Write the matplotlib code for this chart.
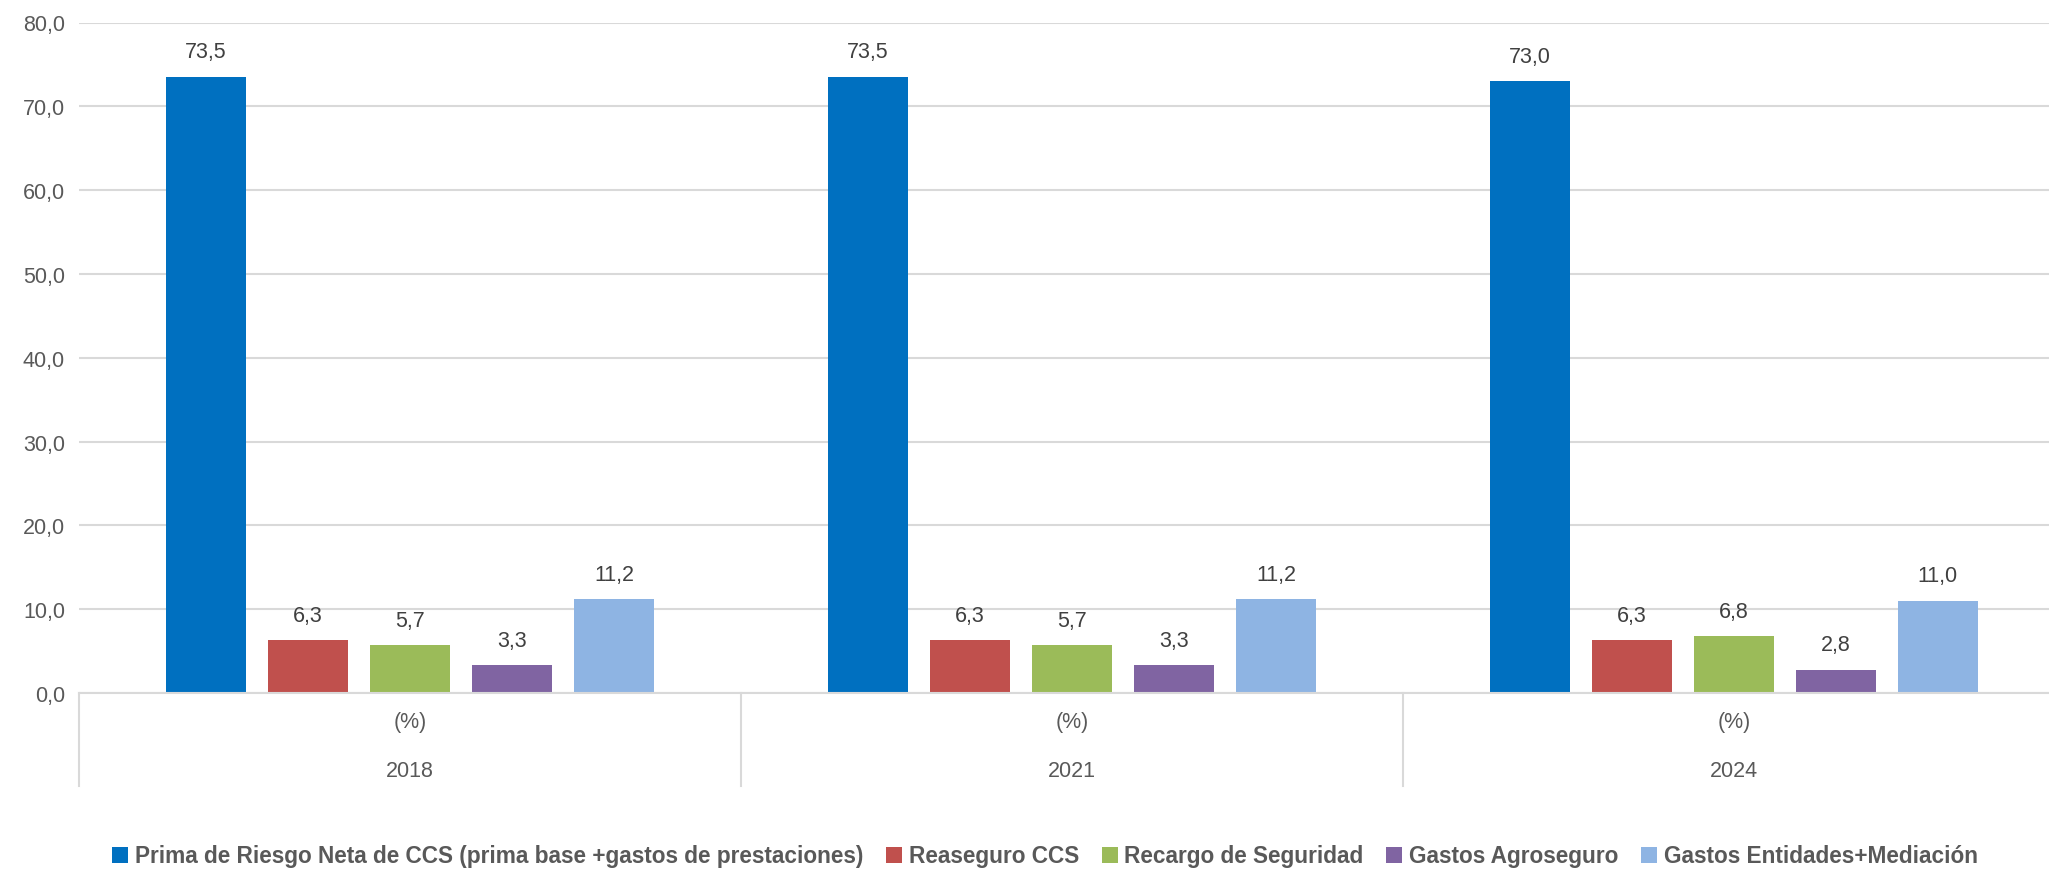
import numpy as np
import matplotlib
matplotlib.use("Agg")
import matplotlib.pyplot as plt
import matplotlib.transforms as mtransforms

plt.rcParams["font.family"] = ["Liberation Sans", "DejaVu Sans"]
NARROW = ["Liberation Sans Narrow", "Liberation Sans", "DejaVu Sans"]

years = ["2018", "2021", "2024"]
unit_label = "(%)"
series_names = [
    "Prima de Riesgo Neta de CCS (prima base +gastos de prestaciones)",
    "Reaseguro CCS",
    "Recargo de Seguridad",
    "Gastos Agroseguro",
    "Gastos Entidades+Mediación",
]
prima_riesgo = [73.5, 73.5, 73.0]
reaseguro = [6.3, 6.3, 6.3]
recargo = [5.7, 5.7, 6.8]
agroseguro = [3.3, 3.3, 2.8]
entidades = [11.2, 11.2, 11.0]
series_values = [prima_riesgo, reaseguro, recargo, agroseguro, entidades]
colors = ["#0070C0", "#C0504D", "#9BBB59", "#8064A2", "#8EB4E3"]

W, H = 2049, 870
fig = plt.figure(figsize=(W / 100, H / 100), dpi=100, facecolor="white")
# axes extends slightly past the right edge like the original
left_px, right_px, top_px, bottom_px = 79, 2065, 23.5, 694
ax = fig.add_axes([left_px / W, 1 - bottom_px / H,
                   (right_px - left_px) / W, (bottom_px - top_px) / H])

FS = 15.5
x = np.arange(len(years))
step = 0.154
width = 0.121
for i, (name, vals, c) in enumerate(zip(series_names, series_values, colors)):
    pos = x + (i - 2) * step
    bars = ax.bar(pos, vals, width, color=c, label=name, zorder=3)
    for b, v in zip(bars, vals):
        ax.annotate(f"{v:.1f}".replace(".", ","),
                    (b.get_x() + b.get_width() / 2, v),
                    xytext=(0, 18), textcoords="offset points",
                    ha="center", va="center", fontsize=FS, color="#404040")

ax.set_xlim(-0.5, len(years) - 0.5)
ax.set_ylim(0, 80)
ax.set_yticks(np.arange(0, 81, 10))
ax.yaxis.set_major_formatter(plt.FuncFormatter(lambda v, _: f"{v:.1f}".replace(".", ",")))
ax.tick_params(axis="y", length=0, pad=10, labelsize=FS, labelcolor="#595959")
ax.set_xticks([])
ax.grid(axis="y", color="#D9D9D9", linewidth=1.5, zorder=0)
for s in ["top", "right", "left"]:
    ax.spines[s].set_visible(False)
ax.spines["bottom"].set_color("#D9D9D9")
ax.spines["bottom"].set_linewidth(1.5)
ax.spines["bottom"].set_zorder(4)

# two-level category axis
trans = mtransforms.blended_transform_factory(ax.transData, ax.transAxes)
for xi, yr in zip(x, years):
    ax.text(xi, -0.043, unit_label, transform=trans, ha="center", va="center",
            fontsize=FS, color="#595959")
    ax.text(xi, -0.116, yr, transform=trans, ha="center", va="center",
            fontsize=FS, color="#595959")
for sep in np.arange(len(years) + 1) - 0.5:
    ax.plot([sep, sep], [0, -0.139], transform=trans, color="#D9D9D9",
            linewidth=1.5, clip_on=False)

leg = fig.legend(loc="center", bbox_to_anchor=(1045 / W, 1 - 857 / H), ncol=5,
                 frameon=False, handlelength=0.7, handleheight=0.7,
                 handletextpad=0.3, columnspacing=1.0,
                 prop={"size": 16.3, "weight": "bold", "family": NARROW})
for t in leg.get_texts():
    t.set_color("#595959")

fig.savefig("out.png", dpi=100, facecolor="white")
